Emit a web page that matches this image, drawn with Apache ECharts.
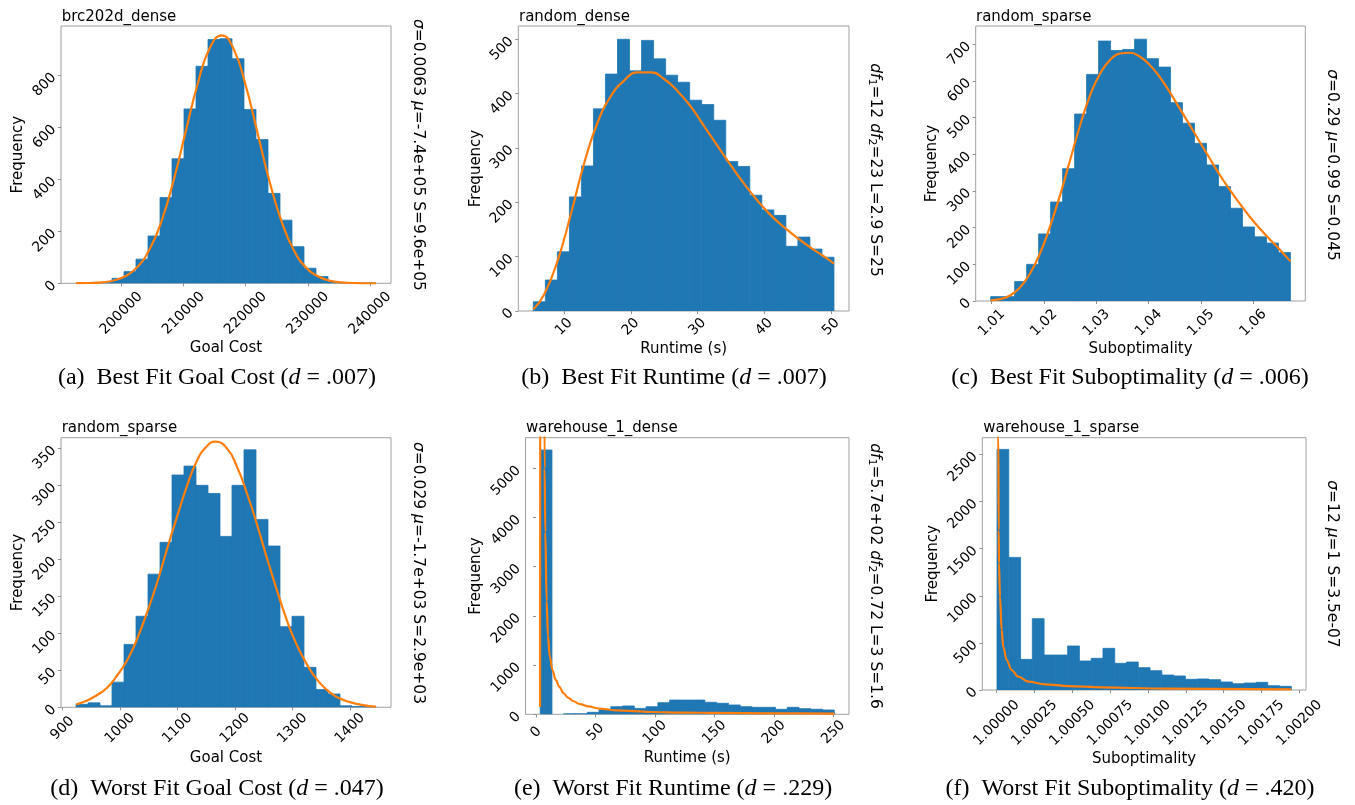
<!DOCTYPE html>
<html>
<head>
<meta charset="utf-8">
<script src="https://cdn.jsdelivr.net/npm/echarts@6/dist/echarts.min.js"></script>
<style>
  html, body { margin: 0; padding: 0; background: #fff; }
  #chart { width: 1355px; height: 805px; }
</style>
</head>
<body>
<div id="chart"></div>
<script>
// ---------- (a) brc202d_dense : goal cost ----------
const aRange = [192713, 240967];
const aCounts = [1, 1, 4, 19, 45, 93, 182, 330, 479, 671, 835, 938, 941, 864, 669, 553, 346, 243, 141, 58, 26, 6, 2, 1, 1];
const aCurveX = [192713, 194893, 196826, 198760, 200693, 202626, 204559, 206492, 208425, 210359, 212292, 214225, 216158,
                 218091, 220024, 221957, 223890, 225824, 227757, 229690, 231623, 233556, 235490, 237745, 240967];
const aCurveY = [0.3, 1.2, 3.8, 10.9, 27.9, 63.9, 131, 241, 397, 584, 768, 905, 954,
                 900, 760, 574, 388, 235, 127, 61, 27, 10, 3.6, 0.9, 0];
const aXTicks = [200000, 210000, 220000, 230000, 240000];
const aYTicks = [0, 200, 400, 600, 800];

// ---------- (b) random_dense : runtime ----------
const bRange = [5.40, 50.45];
const bCounts = [17, 57, 109, 210, 267, 372, 436, 500, 442, 498, 464, 434, 421, 388, 380, 351, 275, 266, 213, 186, 176, 119, 136, 114, 99];
const bCurveX = [5.4, 7, 9, 11, 13, 15, 17, 19, 21, 23, 25, 27, 29, 31, 33, 35, 37, 39, 41, 43, 45, 47, 49, 50.45];
const bCurveY = [3, 30, 91, 177, 271, 346, 395, 424, 439, 439, 427, 405, 376, 340, 304, 268, 234, 203, 176, 154, 134, 116, 100, 87];
const bXTicks = [10, 20, 30, 40, 50];
const bYTicks = [0, 100, 200, 300, 400, 500];

// ---------- (c) random_sparse : suboptimality ----------
const cRange = [1.0098, 1.0671];
const cCounts = [12, 12, 53, 100, 183, 270, 361, 510, 618, 709, 683, 686, 714, 661, 638, 541, 485, 430, 371, 312, 253, 202, 175, 158, 132];
const cCurveX = [1.0098, 1.01159, 1.01350, 1.01541, 1.01732, 1.01923, 1.02114, 1.02305, 1.02496, 1.02687, 1.02878,
                 1.03070, 1.03261, 1.03452, 1.03643, 1.03834, 1.04025, 1.04216, 1.04407, 1.04598, 1.04789, 1.04980,
                 1.05171, 1.05363, 1.05554, 1.05745, 1.05936, 1.06127, 1.06318, 1.06509, 1.0671];
const cCurveY = [2, 5, 15, 37, 75, 130, 203, 288, 383, 478, 560,
                 620, 657, 675, 677, 666, 643, 610, 569, 524, 479, 433,
                 388, 343, 303, 265, 229, 197, 168, 140, 108];
const cXTicks = [1.01, 1.02, 1.03, 1.04, 1.05, 1.06];
const cYTicks = [0, 100, 200, 300, 400, 500, 600, 700];

// ---------- (d) random_sparse : goal cost ----------
const dRange = [923.5, 1445.2];
const dCounts = [4, 6, 2, 34, 85, 123, 180, 223, 314, 326, 300, 289, 231, 300, 348, 254, 218, 109, 123, 54, 24, 18, 2, 1, 1];
const dCurveX = [924, 942, 959, 977, 994, 1012, 1029, 1046, 1064, 1081, 1099, 1116, 1133, 1151, 1166,
                 1186, 1203, 1220, 1238, 1255, 1273, 1290, 1307, 1325, 1342, 1359, 1377, 1400, 1423, 1445];
const dCurveY = [4, 9, 16, 26, 42, 63, 91, 126, 167, 212, 257, 298, 332, 353, 359,
                 350, 326, 291, 248, 203, 158, 118, 85, 58, 38, 24, 14, 7, 3, 1];
const dXTicks = [900, 1000, 1100, 1200, 1300, 1400];
const dYTicks = [0, 50, 100, 150, 200, 250, 300, 350];

// ---------- (e) warehouse_1_dense : runtime ----------
const eRange = [3.5, 250.8];
const eCounts = [5373, 0, 10, 12, 40, 100, 155, 170, 120, 155, 237, 290, 290, 290, 244, 224, 190, 156, 142, 142, 102, 142, 115, 102, 88];
const eCurveX = [3.4, 3.55, 6.6, 7.2, 7.8, 8.9, 10.0, 11.5, 13.8, 16.5, 19.6, 23, 26.9, 31, 37, 44, 53, 68, 96, 125, 152, 200, 250.8];
const eCurveY = [150, 9000, 9000, 5000, 3700, 2300, 1600, 1180, 900, 700, 560, 430, 340, 270, 205, 160, 115, 80, 47, 35, 27, 19, 14];
const eXTicks = [0, 50, 100, 150, 200, 250];
const eYTicks = [0, 1000, 2000, 3000, 4000, 5000];

// ---------- (f) warehouse_1_sparse : suboptimality ----------
const fRange = [1.0000022, 1.001947];
const fCounts = [2553, 1407, 325, 757, 371, 371, 467, 308, 336, 442, 283, 297, 237, 205, 159, 149, 113, 117, 110, 85, 67, 74, 81, 46, 39];
const fCurveX = [1.0000060, 1.0000106, 1.0000132, 1.0000152, 1.0000218, 1.000033, 1.0000436, 1.000066,
                 1.000099, 1.000143, 1.000209, 1.000319, 1.000473, 1.000694, 1.001123, 1.001947];
const fCurveY = [9000, 2700, 1698, 1344, 990, 637, 459, 318, 212, 141, 88, 60, 42, 28, 14, 7];
const fXTicks = [1.00000, 1.00025, 1.00050, 1.00075, 1.00100, 1.00125, 1.00150, 1.00175, 1.00200];
const fYTicks = [0, 500, 1000, 1500, 2000, 2500];

// ---------- layout of the six panels ----------
const SANS = 'DejaVu Sans';
const SERIF = 'Liberation Serif';
const BAR = '#1f77b4';
const CURVE = '#ff7f0e';

const panels = [
  { grid: { left: 61, top: 26, width: 330, height: 257.3 }, xExt: [190300, 243380], yExt: [0, 990],
    range: aRange, counts: aCounts, cx: aCurveX, cy: aCurveY, xTicks: aXTicks, yTicks: aYTicks, spike: false,
    fmt: v => String(Math.round(v)), xName: 'Goal Cost', xNameGap: 57, xLabelMargin: 30, yNameGap: 35,
    title: 'brc202d_dense', titlePos: [61.7, 17],
    note: '{i|σ}=0.0063 {i|μ}=-7.4e+05 S=9.6e+05', notePos: [418, 155],
    caption: ['(a)', 'Best Fit Goal Cost (', 'd', ' = .007)'], capPos: [217, 378] },
  { grid: { left: 518.3, top: 26, width: 330.7, height: 285 }, xExt: [3.15, 52.70], yExt: [0, 524.5],
    range: bRange, counts: bCounts, cx: bCurveX, cy: bCurveY, xTicks: bXTicks, yTicks: bYTicks, spike: false,
    fmt: v => String(Math.round(v)), xName: 'Runtime (s)', xNameGap: 29, xLabelMargin: 16, yNameGap: 35,
    title: 'random_dense', titlePos: [519, 17],
    note: '{i|df}{s|1}=12 {i|df}{s|2}=23 L=2.9 S=25', notePos: [875, 170],
    caption: ['(b)', 'Best Fit Runtime (', 'd', ' = .007)'], capPos: [674, 378] },
  { grid: { left: 975.7, top: 26, width: 329.6, height: 275 }, xExt: [1.00694, 1.06994], yExt: [0, 750],
    range: cRange, counts: cCounts, cx: cCurveX, cy: cCurveY, xTicks: cXTicks, yTicks: cYTicks, spike: false,
    fmt: v => v.toFixed(2), xName: 'Suboptimality', xNameGap: 39, xLabelMargin: 22, yNameGap: 36,
    title: 'random_sparse', titlePos: [976, 17],
    note: '{i|σ}=0.29 {i|μ}=0.99 S=0.045', notePos: [1331.7, 165],
    caption: ['(c)', 'Best Fit Suboptimality (', 'd', ' = .006)'], capPos: [1130, 378] },
  { grid: { left: 61, top: 437.7, width: 330, height: 269.6 }, xExt: [897.4, 1471.3], yExt: [0, 364.4],
    range: dRange, counts: dCounts, cx: dCurveX, cy: dCurveY, xTicks: dXTicks, yTicks: dYTicks, spike: false,
    fmt: v => String(Math.round(v)), xName: 'Goal Cost', xNameGap: 43, xLabelMargin: 21, yNameGap: 35,
    title: 'random_sparse', titlePos: [61.7, 428],
    note: '{i|σ}=0.029 {i|μ}=-1.7e+03 S=2.9e+03', notePos: [418, 573],
    caption: ['(d)', 'Worst Fit Goal Cost (', 'd', ' = .047)'], capPos: [217, 789] },
  { grid: { left: 525.5, top: 437.7, width: 323.5, height: 276.6 }, xExt: [-8.87, 263.17], yExt: [0, 5623],
    range: eRange, counts: eCounts, cx: eCurveX, cy: eCurveY, xTicks: eXTicks, yTicks: eYTicks, spike: true,
    fmt: v => String(Math.round(v)), xName: 'Runtime (s)', xNameGap: 36, xLabelMargin: 18, yNameGap: 42,
    title: 'warehouse_1_dense', titlePos: [526, 428],
    note: '{i|df}{s|1}=5.7e+02 {i|df}{s|2}=0.72 L=3 S=1.6', notePos: [875, 576],
    caption: ['(e)', 'Worst Fit Runtime (', 'd', ' = .229)'], capPos: [673, 789] },
  { grid: { left: 982.3, top: 437.7, width: 323.7, height: 252.3 }, xExt: [0.999905, 1.002044], yExt: [0, 2677],
    range: fRange, counts: fCounts, cx: fCurveX, cy: fCurveY, xTicks: fXTicks, yTicks: fYTicks, spike: true,
    fmt: v => v.toFixed(5), xName: 'Suboptimality', xNameGap: 60, xLabelMargin: 33, yNameGap: 42,
    title: 'warehouse_1_sparse', titlePos: [983.3, 428],
    note: '{i|σ}=12 {i|μ}=1 S=3.5e-07', notePos: [1331.7, 564],
    caption: ['(f)', 'Worst Fit Suboptimality (', 'd', ' = .420)'], capPos: [1130, 789] }
];

// Turn counts over an evenly split range into [left edge, right edge, count] bins.
function toBins(range, counts) {
  const w = (range[1] - range[0]) / counts.length;
  return counts.map((c, i) => [range[0] + i * w, range[0] + (i + 1) * w, c]);
}

function renderBar(params, api) {
  const h = api.value(2);
  if (!(h > 0)) return null;
  const top = api.coord([api.value(0), h]);
  const base = api.coord([api.value(1), 0]);
  return {
    type: 'rect',
    shape: { x: top[0], y: top[1], width: base[0] - top[0], height: base[1] - top[1] },
    style: { fill: BAR, stroke: BAR, lineWidth: 0.8 }
  };
}

const grids = [], xAxes = [], yAxes = [], series = [], graphics = [];
const labelStyle = { color: '#000', fontFamily: SANS, fontSize: 14 };
const nameStyle = { color: '#000', fontFamily: SANS, fontSize: 15 };

panels.forEach((p, i) => {
  grids.push(Object.assign({
    show: true, borderColor: '#a0a0a0', borderWidth: 1, backgroundColor: 'transparent',
    containLabel: false, outerBoundsMode: 'none'
  }, p.grid));

  xAxes.push({
    type: 'value', gridIndex: i, min: p.xExt[0], max: p.xExt[1],
    splitLine: { show: false }, axisLine: { show: false },
    axisTick: { show: true, length: 3, lineStyle: { color: '#909090' }, customValues: p.xTicks },
    axisLabel: Object.assign({
      rotate: 45, align: 'center', verticalAlign: 'middle', margin: p.xLabelMargin,
      customValues: p.xTicks, formatter: p.fmt, hideOverlap: false
    }, labelStyle),
    name: p.xName, nameLocation: 'middle', nameGap: p.xNameGap, nameTextStyle: nameStyle
  });

  yAxes.push({
    type: 'value', gridIndex: i, min: p.yExt[0], max: p.yExt[1],
    splitLine: { show: false }, axisLine: { show: false },
    axisTick: { show: true, length: 3, lineStyle: { color: '#909090' }, customValues: p.yTicks },
    axisLabel: Object.assign({
      rotate: 45, margin: 7, customValues: p.yTicks, formatter: v => String(Math.round(v)), hideOverlap: false
    }, labelStyle),
    name: 'Frequency', nameLocation: 'middle', nameGap: p.yNameGap, nameTextStyle: nameStyle
  });

  series.push({
    type: 'custom', xAxisIndex: i, yAxisIndex: i,
    data: toBins(p.range, p.counts), encode: { x: [0, 1], y: 2 },
    renderItem: renderBar, clip: true, z: 2, silent: true
  });

  const line = {
    type: 'line', xAxisIndex: i, yAxisIndex: i,
    data: p.cx.map((x, j) => [x, p.cy[j]]),
    smooth: p.spike ? 0.35 : 0.5, symbol: 'none', clip: true, z: 3, silent: true,
    lineStyle: { color: CURVE, width: 2.2 }
  };
  if (p.spike) line.smoothMonotone = 'x';
  series.push(line);

  // panel title, top-left above the frame
  graphics.push({
    type: 'text', x: p.titlePos[0], y: p.titlePos[1],
    style: { text: p.title, fill: '#000', font: '15px "' + SANS + '"', align: 'left', verticalAlign: 'middle' }
  });

  // fitted parameters, written downward along the right side
  graphics.push({
    type: 'text', x: p.notePos[0], y: p.notePos[1], rotation: -Math.PI / 2,
    style: {
      text: p.note, fill: '#000', fontFamily: SANS, fontSize: 15.5, align: 'center', verticalAlign: 'middle',
      rich: {
        i: { fontFamily: SANS, fontSize: 15.5, fontStyle: 'italic', fill: '#000' },
        s: { fontFamily: SANS, fontSize: 11, fill: '#000', verticalAlign: 'bottom', padding: [6, 0, 0, 0] }
      }
    }
  });

  // sub-figure caption
  const c = p.caption;
  graphics.push({
    type: 'text', x: p.capPos[0], y: p.capPos[1],
    style: {
      text: '{n|' + c[0] + '  ' + c[1] + '}{it|' + c[2] + '}{n|' + c[3] + '}',
      fill: '#000', fontFamily: SERIF, fontSize: 24, align: 'center', verticalAlign: 'middle',
      rich: {
        n: { fontFamily: SERIF, fontSize: 24, fill: '#000' },
        it: { fontFamily: SERIF, fontSize: 24, fontStyle: 'italic', fill: '#000' }
      }
    }
  });
});

const chart = echarts.init(document.getElementById('chart'), null, { renderer: 'canvas' });
chart.setOption({
  animation: false,
  backgroundColor: '#fff',
  grid: grids,
  xAxis: xAxes,
  yAxis: yAxes,
  series: series,
  graphic: graphics
});
</script>
</body>
</html>
